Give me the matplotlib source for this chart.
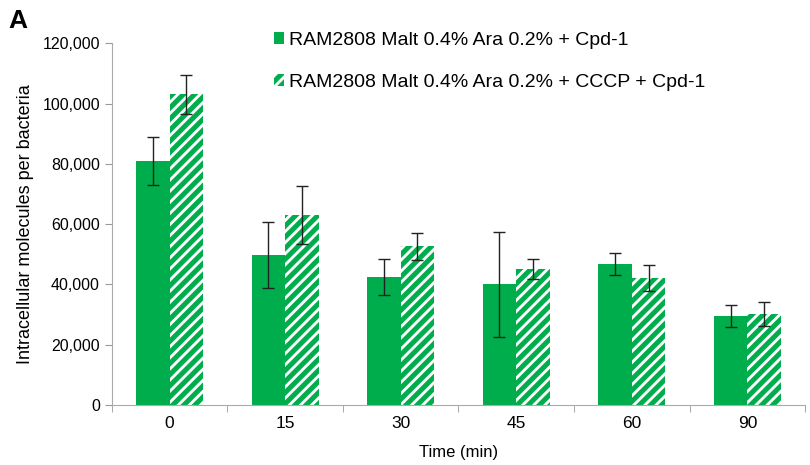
import matplotlib.pyplot as plt
import numpy as np
from matplotlib.ticker import FuncFormatter

times = ['0', '15', '30', '45', '60', '90']
cpd1 = [81000, 49700, 42400, 40000, 46700, 29500]
cpd1_err = [8000, 11000, 6000, 17500, 3700, 3600]
cccp = [103000, 63000, 52700, 45100, 42100, 30200]
cccp_err = [6500, 9500, 4500, 3200, 4300, 4000]
labels = ['RAM2808 Malt 0.4% Ara 0.2% + Cpd-1',
          'RAM2808 Malt 0.4% Ara 0.2% + CCCP + Cpd-1']

green = '#00AD4C'
plt.rcParams['font.family'] = ['Liberation Sans', 'DejaVu Sans']
plt.rcParams['hatch.linewidth'] = 3.6
plt.rcParams['hatch.color'] = green

fig = plt.figure(figsize=(8.1, 4.65), dpi=100)
ax = fig.add_axes([0.138, 0.129, 0.856, 0.778])

x = np.arange(len(times))
w = 0.29
ax.bar(x - w / 2, cpd1, w, color=green, label=labels[0],
       yerr=cpd1_err, capsize=4, error_kw=dict(elinewidth=1, ecolor='#222222', capthick=1))
ax.bar(x + w / 2, cccp, w, facecolor='white', edgecolor=green, hatch='///', linewidth=0,
       label=labels[1], yerr=cccp_err, capsize=4,
       error_kw=dict(elinewidth=1, ecolor='#222222', capthick=1))

ax.set_xlim(-0.5, len(times) - 0.5)
ax.set_ylim(0, 120000)
ax.set_yticks(np.arange(0, 120001, 20000))
ax.yaxis.set_major_formatter(FuncFormatter(lambda v, p: f'{int(v):,}'))
ax.set_xticks(x)
ax.set_xticklabels(times)
ax.set_xticks(np.arange(-0.5, len(times), 1), minor=True)
ax.tick_params(axis='x', which='major', length=0, labelsize=12.5, pad=8)
ax.tick_params(axis='x', which='minor', length=5, color='#999999')
ax.tick_params(axis='y', length=5, color='#999999', labelsize=11.5)

for s in ['top', 'right']:
    ax.spines[s].set_visible(False)
for s in ['left', 'bottom']:
    ax.spines[s].set_color('#aaaaaa')

ax.set_xlabel('Time (min)', fontsize=12, labelpad=10)
ax.set_ylabel('Intracellular molecules per bacteria', fontsize=13, labelpad=6)

ax.legend(loc='upper center', bbox_to_anchor=(0.545, 1.08), frameon=False, fontsize=14,
          handlelength=0.55, handleheight=0.6, handletextpad=0.25, labelspacing=1.3)

fig.text(0.01, 0.94, 'A', fontsize=19, fontweight='bold')

fig.savefig('out.png', dpi=100)
